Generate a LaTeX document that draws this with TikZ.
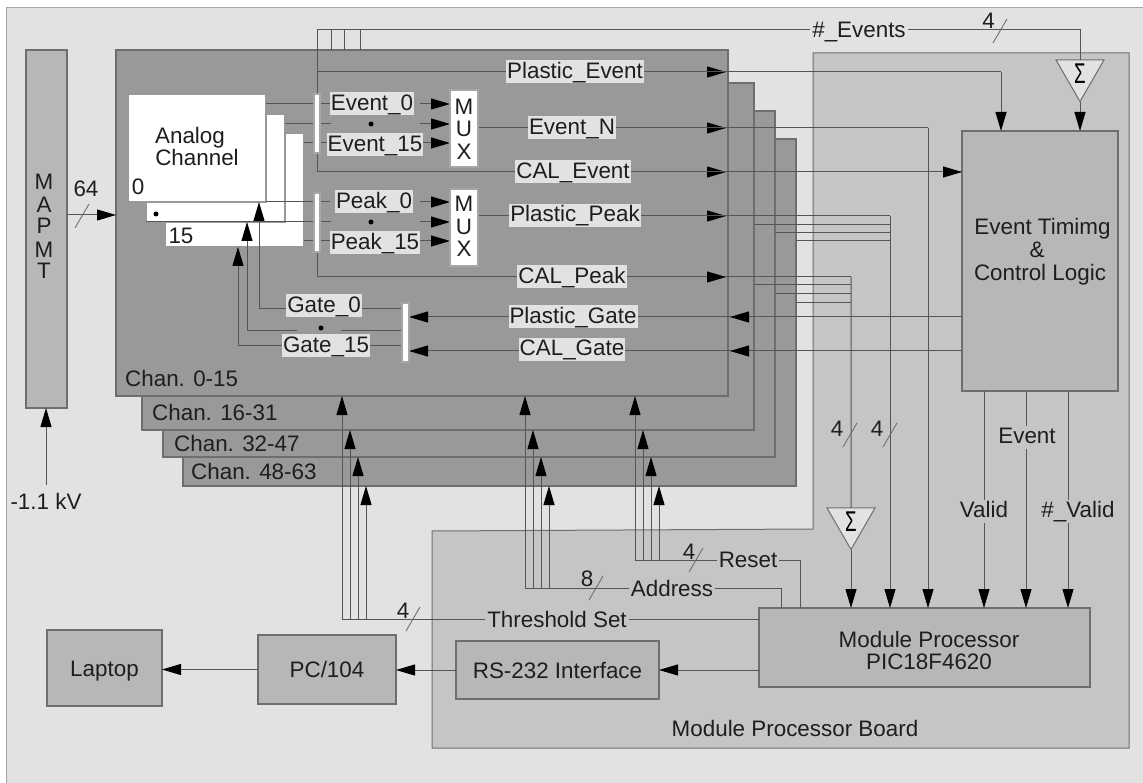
\documentclass[tikz,border=0pt]{standalone}
\usepackage{fontspec}
\setmainfont{Liberation Sans}
\usetikzlibrary{arrows.meta,shapes.geometric}
\definecolor{outerbg}{HTML}{E2E2E2}
\definecolor{boardbg}{HTML}{C5C5C5}
\definecolor{boxbg}{HTML}{B7B7B7}
\definecolor{chanbg}{HTML}{999999}
\definecolor{edge}{HTML}{6E6E6E}
\definecolor{wire}{HTML}{555555}
\definecolor{ink}{HTML}{1E1E1E}
\tikzset{
  frame/.style={draw=edge,line width=1.1pt,inner sep=0pt,outer sep=0pt},
  conn/.style={draw=wire,line width=1pt},
  arr/.style={conn,-{Triangle[length=19pt,width=11pt,color=black]}},
  tick/.style={draw=wire!85,line width=0.9pt},
  txt/.style={inner sep=0pt,text height=16pt,text depth=5pt,yshift=-2.5pt,text=ink,
    font=\fontsize{22.4}{25}\selectfont},
  glab/.style={fill=outerbg,inner sep=1pt,text height=17pt,text depth=4pt,text=ink,
    font=\fontsize{22.4}{25}\selectfont},
  gap/.style={txt,inner xsep=2pt,inner ysep=1pt},
  dotm/.style={circle,fill=black,inner sep=0pt,minimum size=5pt},
  capbox/.style={fill=boxbg,text height=16pt,text depth=0pt,yshift=-0pt},
  sumtri/.style={regular polygon,regular polygon sides=3,shape border rotate=180,
    minimum size=50.8pt,inner sep=0pt,outer sep=0pt,draw=edge,line width=1pt,fill=outerbg,text=black,
    font=\fontsize{22}{25}\selectfont},
}
% \bx{name}{x1}{y1}{x2}{y2}{style}{text}
\newcommand{\bx}[7]{\node[frame,#6,anchor=north west,minimum width=#4-#2,minimum height=#5-#3,align=center,text=ink,font=\fontsize{22.4}{25}\selectfont] (#1) at (#2,#3) {#7};}
\newcommand{\slashmark}[2]{\draw[tick] (#1-7,#2+12) -- (#1+7,#2-12);}
\newcommand{\sumglyph}{\scalebox{0.85}[1.3]{Σ}}
\begin{document}
\begin{tikzpicture}[x=1pt,y=-1pt]
\useasboundingbox (0,0) rectangle (1143,783);
\fill[white] (0,0) rectangle (1143,783);
% outer background
\filldraw[fill=outerbg,draw=gray!70,line width=1pt] (6,8) -- (1150,8) -- (1150,790) -- (6,790) -- cycle;
% module processor board
\filldraw[fill=boardbg,draw=edge,line width=1pt] (432,531) -- (813,529) -- (813,53) -- (1129,53) -- (1129,748) -- (432,748) -- cycle;
% channel cards
\bx{c48}{183}{139}{796}{486}{fill=chanbg}{}
\bx{c32}{163}{111}{775}{457}{fill=chanbg}{}
\bx{c16}{142}{83}{754}{430}{fill=chanbg}{}
\bx{c0}{116}{50}{728}{396}{fill=chanbg}{}
% analog channel
\bx{a15}{165}{133}{304}{247}{fill=white,draw=gray!80}{}
\bx{a1}{146}{114}{285}{222}{fill=white,draw=gray!80}{}
\bx{a0}{128}{94}{266}{202}{fill=white,draw=gray!80}{}
% main boxes
\bx{mapmt}{26}{50}{67}{408}{fill=boxbg}{}
\bx{evt}{962}{131}{1118}{391}{fill=boxbg}{}
\bx{mod}{759}{608}{1090}{687}{fill=boxbg}{}
\bx{rs}{456}{641}{659}{699}{capbox}{RS-232 Interface}
\bx{pc}{258}{635}{396}{704}{capbox}{PC/104}
\bx{lap}{47}{630}{162}{706}{capbox}{Laptop}
\node[align=center,inner sep=0pt,text=ink,font=\fontsize{22.4}{22}\selectfont] (modt) at (929,650) {Module Processor\\PIC18F4620};
\node[txt] (boardt) at (795,728) {Module Processor Board};
% sums
\node[sumtri] (s1) at (1080,73.7) {\sumglyph};
\node[sumtri] (s2) at (851,521.7) {\sumglyph};
% coordinates
\coordinate (evtop) at (317,30);
\coordinate (b1) at (331,30);
\coordinate (b2) at (344,30);
\coordinate (b3) at (360,30);
\coordinate (pe) at (317,72);
\coordinate (pebend) at (1001,72);
\coordinate (ce) at (317,172);
\coordinate (cp0) at (317,252);
\coordinate (cp) at (317,277);
\coordinate (en) at (478,128);
\coordinate (enb) at (928,128);
\coordinate (pp) at (478,216);
\coordinate (ppbend) at (890,216);
\coordinate (cpbend) at (851,277);
\coordinate (ppa) at (890,225);
\coordinate (ppb) at (890,233);
\coordinate (ppc) at (890,241);
\coordinate (cpa) at (851,285);
\coordinate (cpb) at (851,294);
\coordinate (cpc) at (851,303);
\coordinate (ar) at (726,0);
\coordinate (gr) at (730,0);
\coordinate (gp) at (409,317);
\coordinate (gc) at (409,351);
\coordinate (g0) at (402,309);
\coordinate (g1) at (402,331);
\coordinate (g1l) at (341,331);
\coordinate (g1r) at (297,331);
\coordinate (g15) at (402,346);
\coordinate (g0c) at (259,309);
\coordinate (g1c) at (247,331);
\coordinate (g15c) at (238,346);
\coordinate (val) at (984,391);
\coordinate (eve) at (1026,391);
\coordinate (nva) at (1068,391);
\coordinate (mp) at (46,215);
\coordinate (hv) at (46,485);
\coordinate (tth) at (342,619);
\coordinate (tad) at (525,588);
\coordinate (adb) at (781,588);
\coordinate (tre) at (635,560);
\coordinate (reb) at (800,560);
% top bus
\draw[conn] (s1.north) -- (s1.north |- evtop) -- (evtop) -- (ce) -- (ce -| evt.west);
\foreach \c in {b1,b2,b3}{\draw[conn] (\c) -- (\c |- c0.north);}
\draw[arr] (ce) -- (ce -| ar);
\draw[arr] (ce) -- (ce -| evt.west);
\draw[arr] (s1.south) -- (s1.south |- evt.north);
% plastic event
\draw[arr] (pe) -- (pe -| ar);
\draw[conn] (pe) -- (pebend);
\draw[arr] (pebend) -- (pebend |- evt.north);
% analog to bars
\draw[conn] (a0.east |- 0,104) -- (330,104);
\draw[conn] (a1.east |- 0,124) -- (331,124);
\draw[conn] (a15.east |- 0,143) -- (330,143);
\draw[conn] (a0.south east) -- (330,202);
\draw[conn] (a1.south east) -- (331,222);
\draw[conn] (a15.east |- 0,241) -- (330,241);
\draw[conn] (a1.south west) -- (a1.south east);
% into mux
\foreach \y in {104,124,143}{\draw[arr] (420,\y) -- (450,\y);}
\foreach \y in {202,222,241}{\draw[arr] (420,\y) -- (450,\y);}
\draw[conn] (cp0) -- (cp) -- (cp -| cpbend);
\draw[arr] (cp) -- (cp -| ar);
% event N, plastic peak
\draw[arr] (en) -- (en -| ar);
\draw[conn] (en) -- (enb);
\draw[arr] (enb) -- (enb |- mod.north);
\draw[arr] (pp) -- (pp -| ar);
\draw[conn] (pp) -- (ppbend);
\draw[arr] (ppbend) -- (ppbend |- mod.north);
\draw[conn] (c16.east |- ppa) -- (ppa);
\draw[conn] (c32.east |- ppb) -- (ppb);
\draw[conn] (c48.east |- ppc) -- (ppc);
\draw[conn] (cpbend) -- (s2.north);
\draw[conn] (c16.east |- cpa) -- (cpa);
\draw[conn] (c32.east |- cpb) -- (cpb);
\draw[conn] (c48.east |- cpc) -- (cpc);
\draw[arr] (s2.south) -- (s2.south |- mod.north);
% gates
\draw[arr] (gp -| evt.west) -- (gp);
\draw[arr] (gc -| evt.west) -- (gc);
\draw[arr] (gp -| evt.west) -- (gp -| gr);
\draw[arr] (gc -| evt.west) -- (gc -| gr);
\draw[arr] (g0) -- (g0c) -- (g0c |- a0.south);
\draw[conn] (g1) -- (g1l);
\draw[arr] (g1r) -- (g1c) -- (g1c |- a1.south);
\draw[arr] (g15) -- (g15c) -- (g15c |- a15.south);
% bottom of event box
\draw[arr] (val) -- (val |- mod.north);
\draw[arr] (eve) -- (eve |- mod.north);
\draw[arr] (nva) -- (nva |- mod.north);
% threshold, address, reset
\draw[conn] (tth) -- (tth -| mod.west);
\draw[conn] (tad) -- (adb) -- (adb |- mod.north);
\draw[conn] (tre) -- (reb) -- (reb |- mod.north);
\foreach \x/\y/\k in {342/619/c0,350/619/c16,358/619/c32,366/619/c48,
                      525/588/c0,533/588/c16,541/588/c32,549/588/c48,
                      635/560/c0,643/560/c16,651/560/c32,659/560/c48}{
  \coordinate (q\x) at (\x,\y);
  \draw[arr] (q\x) -- (q\x |- \k.south);
}
% left
\draw[arr] (mapmt.east |- mp) -- (c0.west |- mp);
\draw[arr] (hv) -- (hv |- mapmt.south);
\node[txt] (hvt) at (46,501) {-1.1 kV};
% serial
\draw[arr] (mod.west |- rs.east) -- (rs.east);
\draw[arr] (rs.west) -- (pc.east |- rs.west);
\draw[arr] (pc.west) -- (lap.east |- pc.west);
% bars and mux
\bx{bar1}{314}{94}{320}{153}{fill=white,draw=gray!70}{}
\bx{bar2}{314}{193}{320}{252}{fill=white,draw=gray!70}{}
\bx{bar3}{402}{303}{409}{362}{fill=white,draw=gray!70}{}
\bx{mux1}{450}{90}{478}{167}{fill=white,draw=gray!70}{}
\bx{mux2}{450}{189}{478}{266}{fill=white,draw=gray!70}{}
\foreach \n/\y/\t in {m1/107/M,u1/129/U,x1/152/X,m2/204/M,u2/227/U,x2/249/X}{\node[txt] (\n) at (464,\y) {\t};}
\foreach \n/\y/\t in {pa/182/M,pb/204.5/A,pc2/226/P,pd/250/M,pe2/271/T}{\node[txt] (\n) at (44,\y) {\t};}
% gray labels
\node[glab] (lpe) at (575,72) {Plastic\_Event};
\node[glab] (len) at (572,128) {Event\_N};
\node[glab] (lce) at (573,172) {CAL\_Event};
\node[glab] (lpp) at (575,215.5) {Plastic\_Peak};
\node[glab] (lcp) at (572,277) {CAL\_Peak};
\node[glab] (lpg) at (573,317) {Plastic\_Gate};
\node[glab] (lcg) at (572,349.5) {CAL\_Gate};
\node[glab] (le0) at (372,104) {Event\_0};
\node[glab] (le15) at (375,145) {Event\_15};
\node[glab] (lp0) at (374,202) {Peak\_0};
\node[glab] (lp15) at (375,243) {Peak\_15};
\node[glab] (lg0) at (324,306) {Gate\_0};
\node[glab] (lg15) at (326,346) {Gate\_15};
\node[dotm] (d1) at (371,124) {};
\node[dotm] (d2) at (371,222) {};
\node[dotm] (d3) at (321,328) {};
\node[dotm] (d4) at (156,214) {};
% labels on wires
\node[gap,fill=outerbg] (lev) at (859,30) {\#\_Events};
\node[gap,fill=boardbg] (lth) at (557,619) {Threshold Set};
\node[gap,fill=boardbg] (lad) at (672,588) {Address};
\node[gap,fill=boardbg] (lre) at (748,559) {Reset};
\node[gap,fill=boardbg] (lva) at (984,509) {Valid};
\node[gap,fill=boardbg] (lev2) at (1027,435) {Event};
\node[gap,fill=boardbg] (lnv) at (1078,509) {\#\_Valid};
% other text
\node[txt] (an1) at (190,136) {Analog};
\node[txt] (an2) at (197,158) {Channel};
\node[txt] (n0) at (138,187) {0};
\node[txt] (n15) at (181,236) {15};
\node[txt,anchor=west] (ch0) at (125,379) {Chan. 0-15};
\node[txt,anchor=west] (ch1) at (152,412) {Chan. 16-31};
\node[txt,anchor=west] (ch2) at (174,443) {Chan. 32-47};
\node[txt,anchor=west] (ch3) at (191,471) {Chan. 48-63};
\node[txt] (e1) at (1042.5,227) {Event Timimg};
\node[txt] (e2) at (1037,250) {\&};
\node[txt] (e3) at (1040,273) {Control Logic};
% bus width marks
\slashmark{82}{216} \node[txt] (w64) at (86,189) {64};
\slashmark{1000}{31} \node[txt] (w4a) at (988.5,21) {4};
\slashmark{413}{619} \node[txt] (w4b) at (403,610) {4};
\slashmark{596}{588} \node[txt] (w8) at (587,578) {8};
\slashmark{696}{560} \node[txt] (w4c) at (689,551) {4};
\slashmark{850}{435} \node[txt] (w4d) at (837,428) {4};
\slashmark{890}{435} \node[txt] (w4e) at (877,428) {4};
\end{tikzpicture}
\end{document}
